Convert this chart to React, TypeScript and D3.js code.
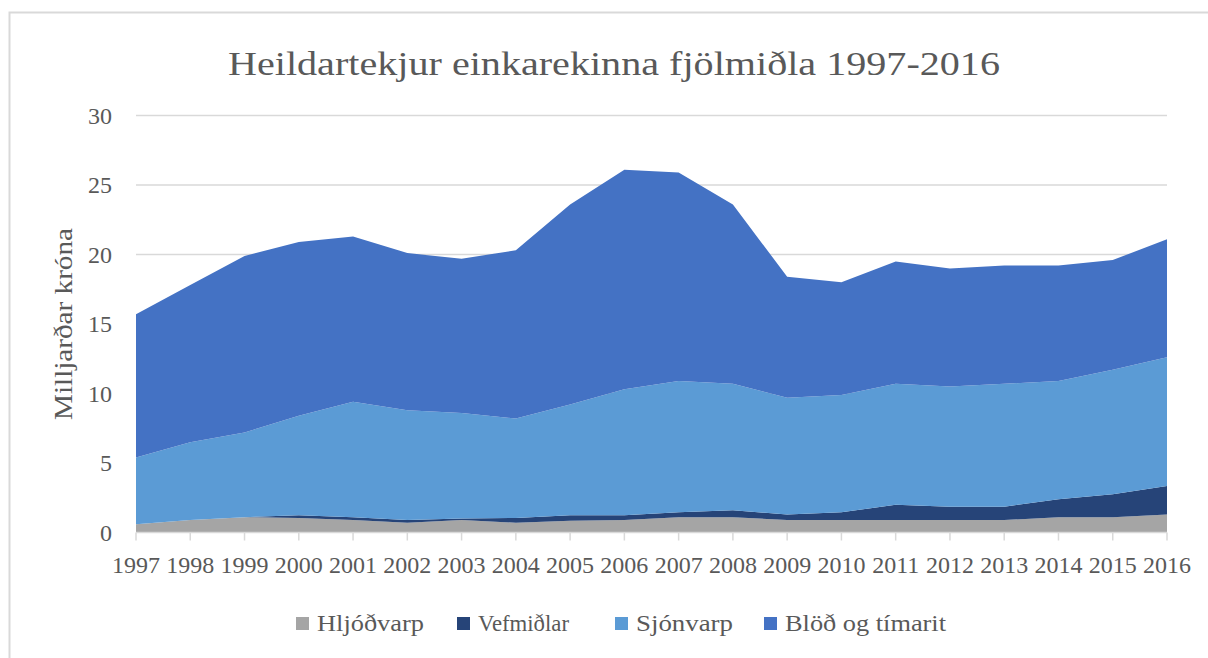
import React from "react";
import * as d3 from "d3";

const years = [1997,1998,1999,2000,2001,2002,2003,2004,2005,2006,2007,2008,2009,2010,2011,2012,2013,2014,2015,2016];
const hljodvarp = [0.6,0.9,1.1,1.05,0.9,0.7,0.9,0.7,0.85,0.9,1.1,1.1,0.9,0.9,0.9,0.9,0.9,1.1,1.1,1.3];
const vefmidlar = [0,0,0,0.2,0.2,0.2,0.1,0.35,0.4,0.35,0.35,0.5,0.4,0.55,1.1,0.95,0.95,1.3,1.65,2.05];
const sjonvarp = [4.8,5.6,6.1,7.15,8.3,7.9,7.6,7.15,7.95,9.05,9.45,9.1,8.4,8.45,8.7,8.65,8.85,8.5,8.95,9.25];
const blod = [10.3,11.3,12.7,12.5,11.9,11.3,11.1,12.1,14.4,15.8,15.0,12.9,8.7,8.1,8.8,8.5,8.5,8.3,7.9,8.5];
const seriesNames = ["Hljóðvarp","Vefmiðlar","Sjónvarp","Blöð og tímarit"];
const seriesColors = ["#A5A5A5","#264478","#5B9BD5","#4472C4"];
const yTicks = [0,5,10,15,20,25,30];
const title = "Heildartekjur einkarekinna fjölmiðla 1997-2016";
const yTitle = "Milljarðar króna";

const FONT = "'Liberation Serif', serif";
const TXT = "#595959";

export default function App() {
  const W = 1208, H = 658;
  const x = d3.scaleLinear().domain([1997, 2016]).range([136, 1167]);
  const y = d3.scaleLinear().domain([0, 30]).range([532.5, 115.5]);
  const rows = years.map((yr, i) => ({ year: yr, h: hljodvarp[i], v: vefmidlar[i], s: sjonvarp[i], b: blod[i] }));
  const stack = d3.stack<any>().keys(["h","v","s","b"])(rows);
  const area = d3.area<any>().x((d) => x(d.data.year)).y0((d) => y(d[0])).y1((d) => y(d[1]));

  const legendX = [296, 457, 615, 764];
  const legendLen = [107, 91, 97, 161];
  return (
    <svg width={W} height={H} style={{ position: "absolute", left: 0, top: 0, background: "#fff" }} fontFamily={FONT}>
      <rect x={9.5} y={12.5} width={W + 20} height={H + 20} fill="#fff" stroke="#D9D9D9" strokeWidth={2} />
      <text x={614} y={75} textAnchor="middle" fontSize={34} fill={TXT} textLength={772} lengthAdjust="spacingAndGlyphs">{title}</text>
      {yTicks.map((t) => (
        <g key={t}>
          {t > 0 && <line x1={136} x2={1167} y1={y(t)} y2={y(t)} stroke="#D9D9D9" strokeWidth={1.5} />}
          <text x={112} y={y(t) + 8} textAnchor="end" fontSize={24} fill={TXT}>{t}</text>
        </g>
      ))}
      {stack.map((s, i) => (
        <path key={i} d={area(s) || ""} fill={seriesColors[i]} />
      ))}
      <line x1={136} x2={1167} y1={y(0)} y2={y(0)} stroke="#D9D9D9" strokeWidth={1.5} />
      {years.map((yr) => (
        <g key={yr}>
          <line x1={x(yr)} x2={x(yr)} y1={y(0)} y2={y(0) + 8} stroke="#D9D9D9" strokeWidth={1.5} />
          <text x={x(yr)} y={573} textAnchor="middle" fontSize={24} fill={TXT}>{yr}</text>
        </g>
      ))}
      <text transform={`translate(72,324) rotate(-90)`} textAnchor="middle" fontSize={25} fill={TXT} textLength={192} lengthAdjust="spacingAndGlyphs">{yTitle}</text>
      {seriesNames.map((n, i) => (
        <g key={n}>
          <rect x={legendX[i]} y={617} width={13} height={13} fill={seriesColors[i]} />
          <text x={legendX[i] + 21} y={631} fontSize={24} fill={TXT} textLength={legendLen[i]} lengthAdjust="spacingAndGlyphs">{n}</text>
        </g>
      ))}
    </svg>
  );
}
